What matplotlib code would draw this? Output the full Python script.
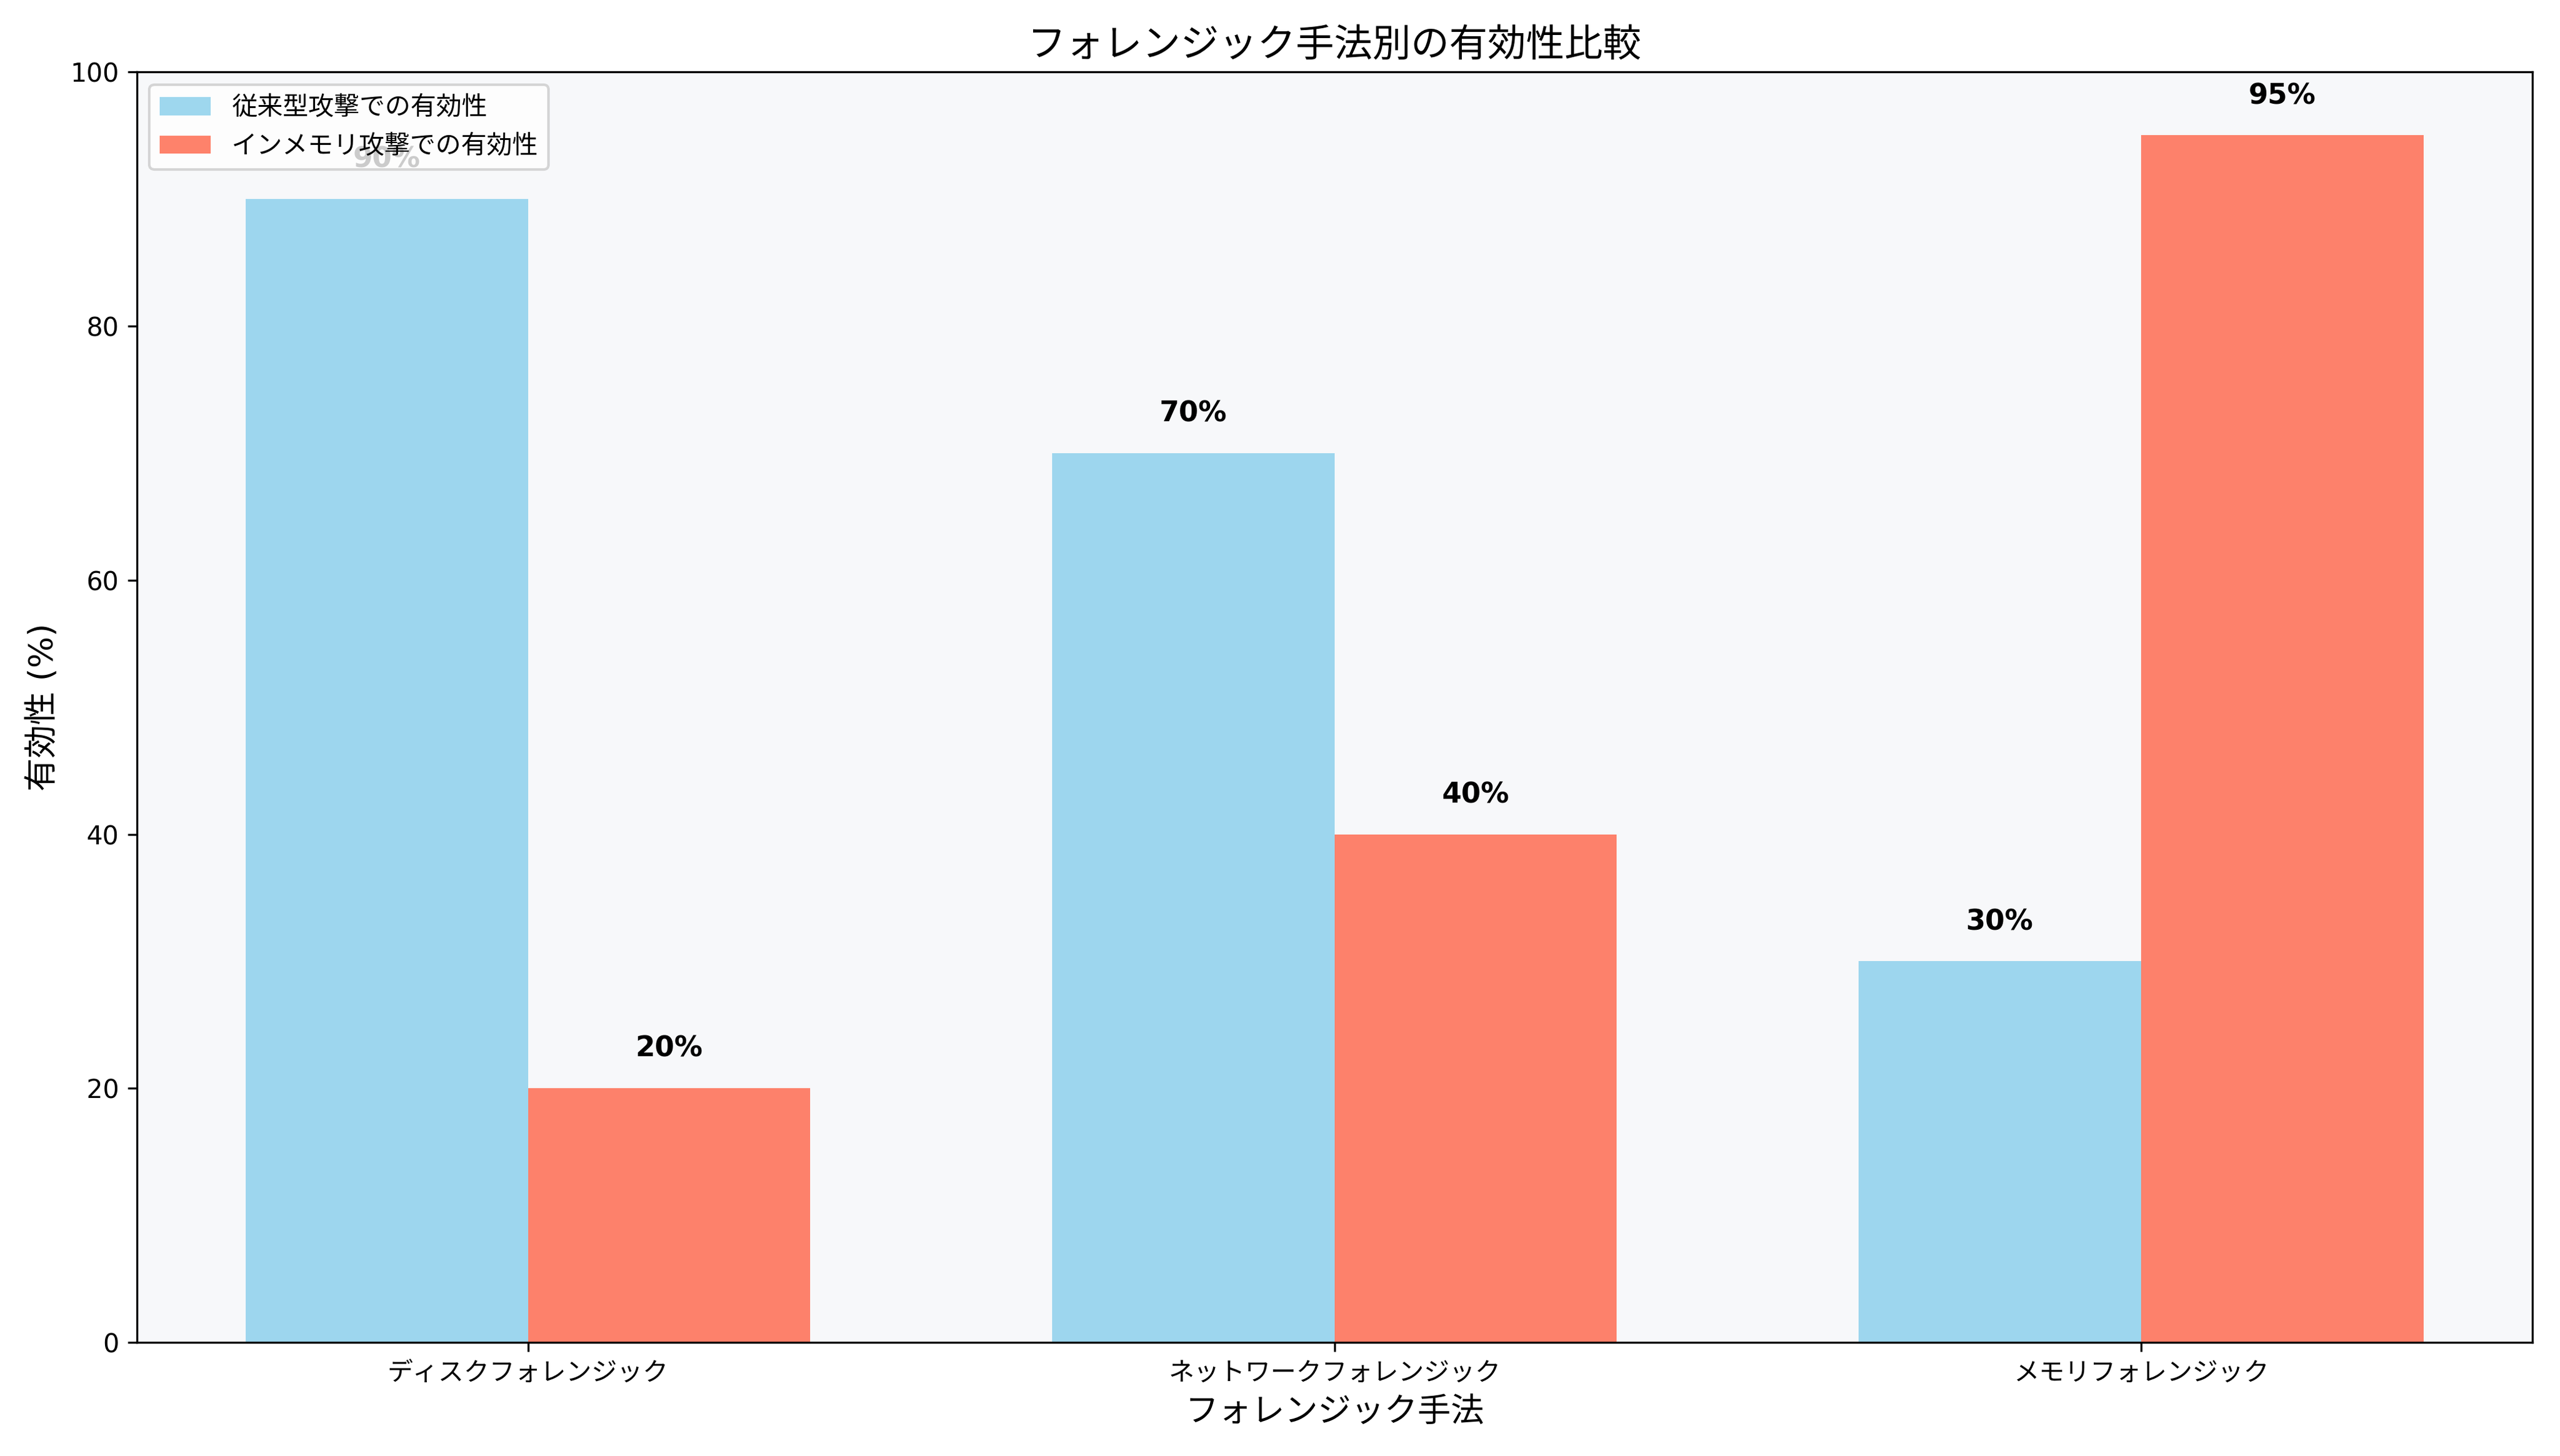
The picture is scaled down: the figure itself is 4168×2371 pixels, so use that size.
import matplotlib.pyplot as plt
import numpy as np

plt.rcParams['font.family'] = ['DejaVu Sans', 'Noto Sans CJK JP']

methods = ['ディスクフォレンジック', 'ネットワークフォレンジック', 'メモリフォレンジック']
traditional = [90, 70, 30]
inmemory = [20, 40, 95]

fig, ax = plt.subplots(figsize=(4168 / 300, 2371 / 300), dpi=300)
ax.set_facecolor('#f7f8fa')

x = np.arange(len(methods))
w = 0.35
b1 = ax.bar(x - w / 2, traditional, w, color='skyblue', alpha=0.8, label='従来型攻撃での有効性')
b2 = ax.bar(x + w / 2, inmemory, w, color='tomato', alpha=0.8, label='インメモリ攻撃での有効性')

for bars in (b1, b2):
    for b in bars:
        h = b.get_height()
        ax.text(b.get_x() + b.get_width() / 2, h + 2, f'{h:.0f}%',
                ha='center', va='bottom', fontweight='bold', fontsize=11)

ax.set_title('フォレンジック手法別の有効性比較', fontsize=15)
ax.set_xlabel('フォレンジック手法', fontsize=13)
ax.set_ylabel('有効性 (%)', fontsize=13)
ax.set_xticks(x)
ax.set_xticklabels(methods)
ax.set_ylim(0, 100)
leg = ax.legend(loc='upper left')
leg.set_zorder(10)

plt.tight_layout()
plt.savefig('out.png', dpi=300)
